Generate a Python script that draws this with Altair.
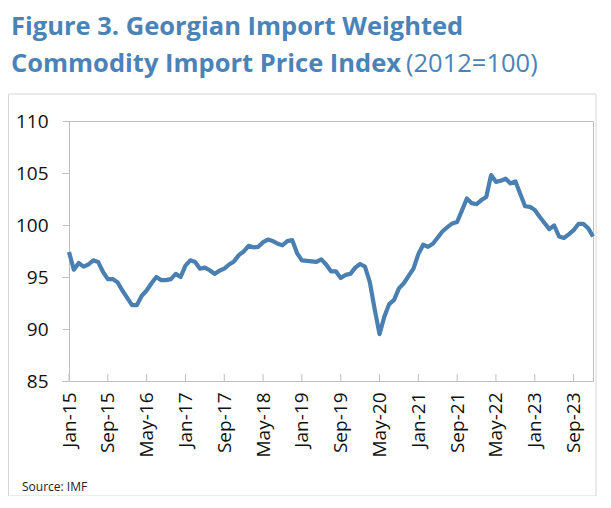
import json
import altair as alt
import pandas as pd

# Monthly index values, Jan-15 .. Jan-24
values = [
    97.4, 95.7, 96.35, 96.0, 96.2, 96.6, 96.45, 95.5, 94.8, 94.8, 94.5, 93.7,
    93.0, 92.3, 92.3, 93.2, 93.7, 94.4, 95.0, 94.7, 94.7, 94.8, 95.3, 95.0,
    96.1, 96.6, 96.45, 95.8, 95.9, 95.65, 95.3, 95.6, 95.8, 96.2, 96.5, 97.1,
    97.45, 98.0, 97.85, 97.9, 98.35, 98.6, 98.45, 98.2, 98.05, 98.45, 98.55, 97.3,
    96.6, 96.55, 96.5, 96.45, 96.7, 96.2, 95.55, 95.55, 94.9, 95.2, 95.3, 95.9,
    96.25, 96.0, 94.5, 91.9, 89.5, 91.2, 92.4, 92.8, 93.9, 94.4, 95.1, 95.8,
    97.2, 98.1, 97.9, 98.2, 98.8, 99.4, 99.8, 100.15, 100.3, 101.4, 102.55, 102.1,
    102.0, 102.4, 102.7, 104.8, 104.15, 104.25, 104.45, 104.0, 104.2, 103.0, 101.8, 101.75,
    101.45, 100.8, 100.2, 99.6, 99.95, 98.9, 98.75, 99.1, 99.5, 100.1, 100.1, 99.7,
    98.9,
]
months = pd.date_range("2015-01-01", periods=len(values), freq="MS").strftime("%b-%y").tolist()
tick_labels = ["Jan-15", "Sep-15", "May-16", "Jan-17", "Sep-17", "May-18", "Jan-19",
               "Sep-19", "May-20", "Jan-21", "Sep-21", "May-22", "Jan-23", "Sep-23"]
y_ticks = [85, 90, 95, 100, 105, 110]

tick_idx = [months.index(t) for t in tick_labels]
df = pd.DataFrame({"idx": list(range(len(values))), "month": months, "value": values})
ticks_df = pd.DataFrame({"idx": tick_idx, "label": tick_labels})

label_expr = json.dumps(tick_labels) + "[round(datum.value / 8)]"
BLUE = "#4A7FB1"
TITLE_BLUE = "#4A83B8"
GRAY = "#BFBFBF"
FONT = "Open Sans"

x_scale = alt.Scale(domain=[0, len(values) - 1], nice=False, zero=False)
y_scale = alt.Scale(domain=[85, 110], nice=False, zero=False)
x_axis = alt.Axis(values=tick_idx, labelExpr=label_expr, ticks=False, domain=False,
                  grid=False, labelAngle=270, labelFontSize=19, labelPadding=11,
                  labelFont=FONT, labelColor="#111111", labelOverlap=False,
                  labelFlush=False, title=None)
y_axis = alt.Axis(values=y_ticks, tickSize=7, tickColor=GRAY, domain=False, grid=False,
                  labelFontSize=19, labelPadding=14, labelFont=FONT,
                  labelColor="#111111", title=None)

one = pd.DataFrame({"a": [0]})

frame = alt.Chart(one).mark_rect(fill="white", fillOpacity=0, stroke="#D6D6D6", strokeWidth=1).encode(
    x=alt.value(-60.5), x2=alt.value(527), y=alt.value(-27), y2=alt.value(375)
)

line = alt.Chart(df).mark_line(color=BLUE, strokeWidth=4.2, strokeJoin="round").encode(
    x=alt.X("idx:Q", scale=x_scale, axis=x_axis),
    y=alt.Y("value:Q", scale=y_scale, axis=y_axis),
)

xticks = alt.Chart(ticks_df).mark_rule(color=GRAY, strokeWidth=1).encode(
    x=alt.X("idx:Q", scale=x_scale, axis=x_axis),
    y=alt.value(253), y2=alt.value(260),
)

t1 = alt.Chart(pd.DataFrame({"t": ["Figure 3. Georgian Import Weighted"]})).mark_text(
    font=FONT, fontSize=25.5, fontWeight="bold", color=TITLE_BLUE, align="left", baseline="alphabetic"
).encode(text="t:N", x=alt.value(-58), y=alt.value(-86))

t2 = alt.Chart(pd.DataFrame({"t": ["Commodity Import Price Index"]})).mark_text(
    font=FONT, fontSize=25.5, fontWeight="bold", color=TITLE_BLUE, align="left", baseline="alphabetic"
).encode(text="t:N", x=alt.value(-58), y=alt.value(-49))

t3 = alt.Chart(pd.DataFrame({"t": ["(2012=100)"]})).mark_text(
    font=FONT, fontSize=25.5, fontWeight="normal", color=TITLE_BLUE, align="left", baseline="alphabetic"
).encode(text="t:N", x=alt.value(337), y=alt.value(-49))

src = alt.Chart(pd.DataFrame({"t": ["Source: IMF"]})).mark_text(
    font=FONT, fontSize=12, color="#222222", align="left", baseline="middle"
).encode(text="t:N", x=alt.value(-47), y=alt.value(366))

chart = alt.layer(frame, line, xticks, t1, t2, t3, src).properties(
    width=524, height=260,
    autosize=alt.AutoSizeParams(type="none"),
    padding={"left": 61, "top": 113, "right": 8, "bottom": 115},
    background="white",
).configure_view(stroke=GRAY, strokeWidth=1)

chart.save("out.html", embed_options={"renderer": "svg", "actions": False})
